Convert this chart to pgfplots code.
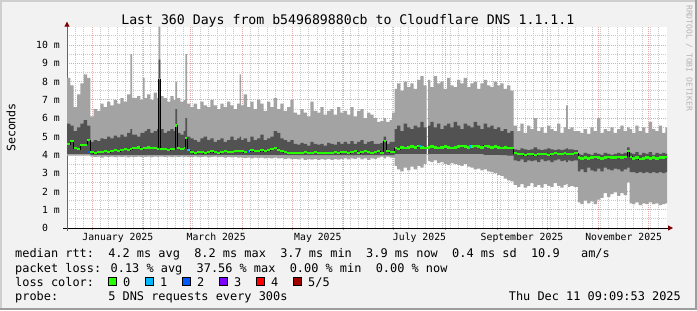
\documentclass[border=0pt]{standalone}
\usepackage{fontspec}
\setmainfont{DejaVu Sans Mono}
\usepackage{pgfplots}
\pgfplotsset{compat=1.18}
\usepackage{pgfplotstable}
\usepgfplotslibrary{fillbetween}
\usetikzlibrary{arrows.meta}
\definecolor{bg}{HTML}{F2F2F2}
\definecolor{shadea}{HTML}{CFCFCF}
\definecolor{shadeb}{HTML}{9E9E9E}
\definecolor{smokelight}{HTML}{A3A3A3}
\definecolor{smokedark}{HTML}{525252}
\definecolor{ggrid}{HTML}{C8C8C8}
\definecolor{mgrid}{HTML}{E4A6A6}
\definecolor{arrowred}{HTML}{7F0000}
\definecolor{yaxis}{HTML}{666666}
\definecolor{lgreen}{HTML}{26FF00}
\definecolor{lcyan}{HTML}{00B8FF}
\definecolor{lblue}{HTML}{0059FF}
\definecolor{lpurple}{HTML}{7E00FF}
\definecolor{lred}{HTML}{FF0000}
\definecolor{ldred}{HTML}{A10000}
\definecolor{wm}{HTML}{B4B4B4}

\pgfplotstableread{
d hi dhi med dlo lo
-15 8.2 5.7 4.60 4.05 3.95
-13 7.8 5.6 4.75 4.05 3.95
-11 6.6 5.3 4.35 4.05 3.95
-9 7.3 5.5 4.30 4.05 3.95
-7 7.9 5.7 4.55 4.05 3.95
-5 8.4 5.9 4.55 4.05 3.95
-3 8.2 5.6 4.80 4.05 3.95
-1 6.1 4.70 4.15 4.00 3.90
1 6.5 4.80 4.10 4.00 3.88
3 6.4 4.75 4.15 4.00 3.90
5 6.8 4.90 4.15 4.00 3.85
7 6.6 4.85 4.20 4.00 3.90
9 6.9 5.00 4.15 4.00 3.88
11 6.7 4.90 4.20 4.00 3.90
13 7.0 5.05 4.25 4.00 3.87
15 6.8 4.95 4.20 4.00 3.90
17 7.1 5.10 4.25 4.00 3.88
19 6.9 5.00 4.30 4.00 3.90
21 7.3 5.20 4.25 4.00 3.86
23 9.5 5.40 4.30 4.00 3.90
24 7.1 5.10 4.35 4.00 3.88
27 7.2 5.00 4.40 4.00 3.90
29 7.0 5.20 4.30 4.00 3.88
30.5 8.2 5.2 4.35 4.00 3.90
31.5 7.1 5.3 4.35 4.00 3.88
33 7.3 5.4 4.40 4.00 3.90
35 7.0 5.2 4.35 4.00 3.87
37 7.4 5.3 4.35 4.00 3.90
39 7.1 5.4 4.30 4.00 3.88
40 11.0 9.2 8.15 4.00 3.90
41 7.2 5.4 4.30 4.00 3.90
43 7.1 5.2 4.30 4.00 3.88
45 6.9 5.3 4.25 4.00 3.90
47 7.2 5.4 4.30 4.00 3.87
49 7.0 5.3 4.30 4.00 3.90
50 8.0 6.5 5.60 4.00 3.90
51 7.1 5.2 4.35 4.00 3.88
53 6.9 5.1 4.30 4.00 3.90
55 7.0 5.3 4.35 4.00 3.88
56 9.5 6.0 4.90 4.00 3.90
57 6.8 5.0 4.25 4.00 3.88
59 6.6 4.90 4.15 4.00 3.88
61 6.8 4.80 4.10 4.00 3.90
63 6.5 4.70 4.15 4.00 3.87
65 6.9 4.90 4.15 4.00 3.88
67 6.7 5.00 4.10 4.00 3.90
69 6.6 4.80 4.15 4.00 3.86
71 7.0 4.90 4.20 4.00 3.88
73 6.7 4.70 4.15 4.00 3.90
75 6.5 4.80 4.10 4.00 3.87
77 6.8 4.90 4.15 4.00 3.88
79 6.6 4.70 4.20 4.00 3.85
81 6.9 4.80 4.15 4.00 3.88
83 6.7 5.00 4.15 4.00 3.86
85 6.5 4.80 4.20 4.00 3.88
87 6.8 4.90 4.20 4.00 3.85
88.5 8.4 5.00 4.20 4.00 3.86
89.5 6.7 4.80 4.20 4.00 3.85
91 7.3 4.90 4.15 4.00 3.82
93 6.6 4.70 4.20 4.00 3.85
95 6.9 5.00 4.25 4.00 3.80
97 6.5 4.80 4.20 4.00 3.84
99 7.0 4.90 4.20 4.00 3.82
101 6.8 5.10 4.25 4.00 3.85
103 6.4 4.80 4.20 4.00 3.80
105 6.9 4.90 4.25 4.00 3.83
107 6.6 5.00 4.30 4.00 3.80
109 7.1 5.30 4.35 4.00 3.84
111 6.5 5.20 4.25 4.00 3.80
113 6.8 4.90 4.20 4.00 3.82
115 6.4 4.80 4.15 4.00 3.78
117 6.6 4.70 4.10 3.98 3.80
119 7.0 4.80 4.10 3.98 3.76
121 6.3 4.60 4.10 3.98 3.78
123 6.2 4.55 4.10 3.98 3.75
125 6.5 4.65 4.10 3.98 3.80
127 6.3 4.60 4.15 3.98 3.72
129 6.1 4.50 4.10 3.98 3.76
131 6.9 4.70 4.10 3.98 3.74
133 6.4 4.60 4.15 3.98 3.78
135 6.3 4.55 4.10 3.98 3.72
137 6.6 4.60 4.10 3.98 3.76
139 6.2 4.50 4.12 3.98 3.74
141 6.4 4.65 4.10 3.98 3.78
143 6.5 4.60 4.10 3.98 3.72
145 6.2 4.55 4.15 3.98 3.76
147 6.6 4.70 4.10 3.98 3.74
149 6.3 4.60 4.15 3.98 3.78
151 6.4 4.70 4.15 3.98 3.80
153 6.2 4.60 4.10 3.98 3.75
155 6.6 4.75 4.15 3.98 3.80
157 6.1 4.60 4.20 3.98 3.78
159 6.4 4.70 4.10 3.98 3.85
161 6.5 4.80 4.15 3.98 3.75
163 6.0 4.60 4.20 3.98 3.80
165 6.3 4.70 4.15 3.98 3.72
167 6.2 4.75 4.10 3.98 3.80
169 6.0 4.60 4.15 3.98 3.78
171 5.8 4.60 4.20 3.98 3.85
173 5.85 4.65 4.10 3.98 3.90
175 6.0 5.00 4.75 3.98 3.80
176.5 5.8 4.60 4.20 3.98 3.90
178.5 5.9 4.70 4.15 3.98 3.85
180 6.3 4.70 4.15 3.98 3.85
181.5 7.6 5.40 4.35 4.05 3.40
183 7.9 5.60 4.30 4.05 3.20
185 7.5 5.30 4.40 4.05 3.10
187 8.0 5.70 4.35 4.05 3.30
189 7.7 5.50 4.40 4.05 3.15
191 7.9 5.40 4.45 4.05 3.35
193 7.6 5.60 4.40 4.05 3.20
195 8.1 5.50 4.50 4.05 3.40
197 8.3 5.80 4.40 4.05 3.30
199 7.8 5.50 4.35 4.05 3.50
200.8 4.35 4.35 4.35 4.35 4.35
201.6 8.1 5.60 4.40 4.05 3.65
203 7.7 5.80 4.45 4.05 3.60
205 8.3 5.50 4.40 4.05 3.70
207 7.9 5.70 4.35 4.05 3.55
209 8.0 5.40 4.40 4.05 3.60
211 7.6 5.60 4.45 4.05 3.50
213 8.2 5.70 4.40 4.05 3.45
215 7.8 5.50 4.35 4.05 3.55
217 7.7 5.80 4.40 4.05 3.50
219 8.1 5.60 4.45 4.05 3.45
221 7.9 5.40 4.50 4.05 3.40
223 8.2 5.70 4.45 4.05 3.50
225 7.7 5.60 4.40 4.05 3.35
227 7.9 5.50 4.45 4.05 3.30
229 8.0 5.80 4.50 4.05 3.20
231 7.6 5.60 4.45 4.05 3.25
233 7.9 5.40 4.40 4.05 3.15
235 8.1 5.70 4.50 4.00 3.20
237 7.8 5.50 4.45 4.00 3.10
239 7.7 5.60 4.40 4.00 3.05
241 8.0 5.40 4.45 4.00 3.00
243 7.8 5.50 4.40 4.00 2.90
245 7.9 5.30 4.35 3.98 2.85
247 7.6 5.40 4.40 3.98 2.70
249 7.8 5.20 4.35 3.95 2.60
251 7.5 5.30 4.35 3.95 2.55
253 5.6 4.30 4.10 3.70 2.35
255 5.3 4.25 4.05 3.65 2.25
257 5.7 4.35 4.05 3.75 2.40
259 5.2 4.30 4.00 3.60 2.20
261 5.6 4.25 4.05 3.70 2.30
263 5.4 4.30 4.05 3.65 2.45
265 6.0 4.40 4.00 3.70 2.25
267 5.3 4.30 4.05 3.60 2.35
269 5.5 4.25 4.05 3.75 2.20
271 5.2 4.30 4.05 3.65 2.40
273 5.6 4.35 4.00 3.70 2.30
275 5.4 4.30 4.05 3.60 2.25
277 5.3 4.25 4.10 3.70 2.45
279 5.7 4.30 4.05 3.75 2.30
281 5.2 4.25 4.05 3.65 2.20
283 5.5 4.30 4.10 3.70 2.35
284.5 6.7 4.35 4.05 3.60 2.40
285.5 5.4 4.30 4.05 3.70 2.25
287 5.5 4.30 4.05 3.65 2.30
289 5.3 4.25 4.10 3.70 2.25
291.5 5.3 4.05 3.85 3.10 1.40
293 5.2 4.00 3.80 3.20 1.30
295 5.4 4.10 3.85 3.05 1.50
297 5.15 4.05 3.80 3.30 1.35
299 5.5 4.00 3.85 3.15 1.45
301 5.3 4.10 3.90 3.10 1.30
303 6.0 4.05 3.85 3.25 1.55
305 5.2 4.00 3.80 3.10 1.65
307 5.4 4.10 3.85 3.30 1.90
309 5.3 4.05 3.90 3.20 1.70
311 5.5 4.00 3.85 3.15 1.85
313 5.2 4.05 3.85 3.25 1.95
315 5.4 4.10 3.90 3.20 1.75
317 5.6 4.05 3.85 3.10 1.90
319 5.3 4.10 3.90 3.20 1.80
321 5.5 4.40 4.20 3.30 2.50
322.5 5.4 4.10 3.90 3.05 1.35
324 5.2 4.05 3.80 3.05 1.30
326 5.6 4.15 3.85 3.00 1.40
328 5.3 4.00 3.75 3.05 1.25
330 5.5 4.10 3.80 3.00 1.35
332 5.2 4.05 3.85 3.05 1.30
334 5.8 4.15 3.80 3.00 1.40
336 5.4 4.00 3.85 3.05 1.30
338 5.3 4.10 3.80 3.00 1.35
340 5.6 4.05 3.85 3.05 1.25
342 5.2 4.10 3.85 3.00 1.30
344 5.5 4.05 3.90 3.05 1.35
345 5.5 4.05 3.90 3.05 1.35
}\smoke

\begin{document}
\pagecolor{bg}%
\begin{tikzpicture}[x=1bp,y=1bp]
\path (0,0) rectangle (697,310);
\fill[shadea] (0,308) rectangle (697,310);
\fill[shadea] (0,0) rectangle (2,310);
\fill[shadeb] (0,0) rectangle (697,2);
\fill[shadeb] (695,0) rectangle (697,310);

\begin{axis}[
  at={(67bp,82bp)}, anchor=south west,
  scale only axis, width=600bp, height=201.3bp,
  xmin=-15, xmax=345, ymin=0, ymax=11,
  axis lines=left,
  axis line style={line width=0.9bp},
  x axis line style={black, -{Triangle[length=5bp,width=5bp,color=arrowred]}, shorten >=-6bp, shorten <=-4bp},
  y axis line style={yaxis, -{Triangle[length=5bp,width=5bp,color=arrowred]}, shorten >=-5bp, shorten <=-3bp},
  axis background/.style={fill=white},
  xtick={0,31,59,90,120,151,181,212,243,273,304,334},
  xticklabels={},
  minor xtick={-10,-5,...,340},
  ytick={0,1,...,10},
  yticklabels={0\hphantom{xx},1 m,2 m,3 m,4 m,5 m,6 m,7 m,8 m,9 m,10 m},
  minor ytick={0.5,1.5,...,10.5},
  grid=both,
  major grid style={draw=mgrid, line width=0.8bp, dash pattern=on 1bp off 1bp},
  minor grid style={draw=ggrid, line width=0.8bp, dash pattern=on 1bp off 1bp},
  tick align=outside,
  major tick length=2bp, minor tick length=0pt,
  xtick style={line width=0.6bp, draw=mgrid!80!black},
  ytick style={draw=none},
  extra x ticks={15.5,74.5,135.5,196.5,258,319},
  extra x tick labels={January 2025,March 2025,May 2025,July 2025,September 2025,November 2025},
  extra x tick style={grid=none, major tick length=0pt},
  tick label style={font=\fontsize{9.8bp}{11bp}\selectfont, inner sep=0pt},
  xticklabel style={anchor=base, yshift=-12.3bp},
  yticklabel style={anchor=east, xshift=-5bp},
]
\addplot[name path=hi, draw=none, const plot mark left] table[x=d,y=hi]{\smoke};
\addplot[name path=lo, draw=none, const plot mark left] table[x=d,y=lo]{\smoke};
\addplot[name path=dhi, draw=none, const plot mark left] table[x=d,y=dhi]{\smoke};
\addplot[name path=dlo, draw=none, const plot mark left] table[x=d,y=dlo]{\smoke};
\addplot[fill=smokelight, draw=none] fill between[of=hi and lo];
\addplot[fill=smokedark, draw=none] fill between[of=dhi and dlo];
\addplot[const plot mark left, line width=0.5bp, black] table[x=d,y=med]{\smoke};
\addplot[jump mark left, line width=2.2bp, lgreen] table[x=d,y=med]{\smoke};
\addplot[jump mark left, line width=2.2bp, lcyan] coordinates {(40,8.15) (41,8.15)};
\addplot[jump mark left, line width=2.2bp, lcyan] coordinates {(57,4.25) (58.2,4.25)};
\addplot[jump mark left, line width=2.2bp, lblue] coordinates {(93,4.18) (94.2,4.18)};
\addplot[jump mark left, line width=2.2bp, lblue] coordinates {(-2.5,4.15) (-1.5,4.15)};
\addplot[jump mark left, line width=2.2bp, lcyan] coordinates {(196,4.5) (197.2,4.5)};
\addplot[jump mark left, line width=2.2bp, lcyan] coordinates {(226,4.45) (227.2,4.45)};
\end{axis}

\node[anchor=base, inner sep=0pt, font=\fontsize{13.2bp}{15bp}\selectfont] at (347.8,286) {Last 360 Days from b549689880cb to Cloudflare DNS 1.1.1.1};
\node[rotate=90, inner sep=0pt, font=\fontsize{11.6bp}{13bp}\selectfont] at (11,182.5) {Seconds};
\node[rotate=-90, anchor=base west, inner sep=0pt, text=wm, font=\fontsize{8bp}{9bp}\selectfont] at (686.5,305) {RRDTOOL / TOBI OETIKER};

\begin{scope}[every node/.style={anchor=base west, inner sep=0pt, font=\fontsize{11.9bp}{13bp}\selectfont}]
\node at (15,52.7) {median rtt:~~4.2 ms avg~~8.2 ms max~~3.7 ms min~~3.9 ms now~~0.4 ms sd~~10.9~~~am/s};
\node at (15,38) {packet loss: 0.13 \% avg~~37.56 \% max~~0.00 \% min~~0.00 \% now};
\node at (15,23.7) {loss color:};
\node at (123,23.7) {0};
\node at (160,23.7) {1};
\node at (197,23.7) {2};
\node at (234,23.7) {3};
\node at (271,23.7) {4};
\node at (308,23.7) {5/5};
\node at (15,9.7) {probe:~~~~~~~5 DNS requests every 300s};
\node[anchor=base east] at (681,9.7) {Thu Dec 11 09:09:53 2025};
\end{scope}
\foreach \xx/\cc in {108.3/lgreen,145.3/lcyan,182.3/lblue,219.3/lpurple,256.3/lred,293.3/ldred}{
  \draw[fill=\cc, line width=0.8bp] (\xx,24.8) rectangle ++(8.2,8.2);
}
\pgfresetboundingbox
\path[use as bounding box] (0,0) rectangle (697,310);
\end{tikzpicture}
\end{document}
